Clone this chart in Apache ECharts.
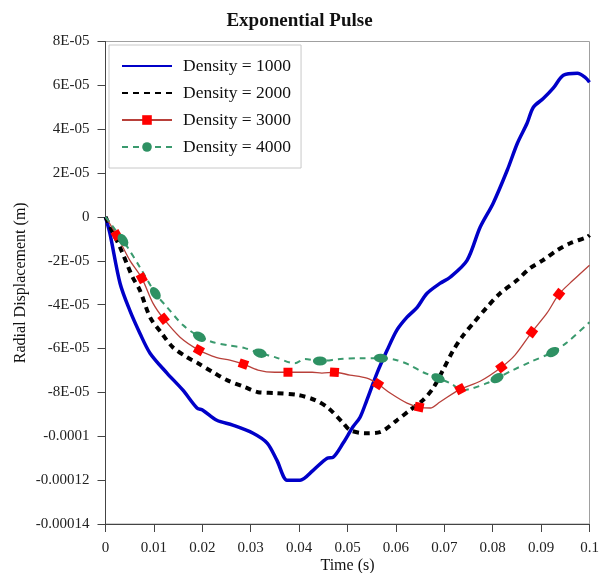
<!DOCTYPE html>
<html>
<head>
<meta charset="utf-8">
<script src="https://cdn.jsdelivr.net/npm/echarts@6/dist/echarts.min.js"></script>
<style>
  html, body { margin: 0; padding: 0; background: #ffffff; }
  #chart { width: 599px; height: 573px; }
</style>
</head>
<body>
<div id="chart"></div>
<script>
// Radial displacement response to an exponential pulse, four material densities.
const chartTitle = 'Exponential Pulse';
const xAxisName = 'Time (s)';
const yAxisName = 'Radial Displacement (m)';
const seriesNames = ['Density = 1000', 'Density = 2000', 'Density = 3000', 'Density = 4000'];

// time (s) and radial displacement (m)
const time1000 = [0, 0.0009, 0.0030, 0.0050, 0.0071, 0.0092, 0.0127, 0.0160, 0.0189, 0.0201, 0.0230, 0.0263, 0.0305, 0.0334, 0.0354, 0.0375, 0.0387, 0.0402, 0.0429, 0.0458, 0.0470, 0.0491, 0.0511, 0.0526, 0.0540, 0.0561, 0.0582, 0.0602, 0.0623, 0.0644, 0.0664, 0.0691, 0.0712, 0.0747, 0.0774, 0.0801, 0.0830, 0.0851, 0.0871, 0.0884, 0.0905, 0.0925, 0.0946, 0.0975, 0.0991, 0.1];
const disp1000 = [0, -0.74e-5, -3.02e-5, -4.25e-5, -5.30e-5, -6.21e-5, -7.12e-5, -7.90e-5, -8.71e-5, -8.81e-5, -9.27e-5, -9.49e-5, -9.86e-5, -10.31e-5, -11.09e-5, -12.0e-5, -12.0e-5, -12.0e-5, -11.55e-5, -11.0e-5, -10.96e-5, -10.31e-5, -9.58e-5, -9.13e-5, -8.35e-5, -7.12e-5, -6.07e-5, -5.16e-5, -4.57e-5, -4.12e-5, -3.49e-5, -3.03e-5, -2.75e-5, -1.98e-5, -0.47e-5, 0.63e-5, 2.13e-5, 3.36e-5, 4.27e-5, 5.0e-5, 5.41e-5, 5.87e-5, 6.46e-5, 6.55e-5, 6.36e-5, 6.14e-5];

const time2000 = [0, 0.0015, 0.0030, 0.0056, 0.0071, 0.0092, 0.0116, 0.0139, 0.0168, 0.0191, 0.0222, 0.0251, 0.0288, 0.0315, 0.0350, 0.0398, 0.0433, 0.0460, 0.0491, 0.0505, 0.0536, 0.0567, 0.0602, 0.0629, 0.0656, 0.0677, 0.0698, 0.0718, 0.0739, 0.0760, 0.0788, 0.0815, 0.0850, 0.0877, 0.0904, 0.0933, 0.0960, 0.0995, 0.1];
const disp2000 = [0, -0.70e-5, -1.38e-5, -2.75e-5, -3.34e-5, -4.57e-5, -5.30e-5, -5.94e-5, -6.39e-5, -6.67e-5, -7.08e-5, -7.44e-5, -7.76e-5, -7.99e-5, -8.03e-5, -8.12e-5, -8.35e-5, -8.71e-5, -9.40e-5, -9.72e-5, -9.86e-5, -9.81e-5, -9.27e-5, -8.81e-5, -8.35e-5, -7.80e-5, -6.95e-5, -6.10e-5, -5.40e-5, -4.84e-5, -4.12e-5, -3.49e-5, -2.89e-5, -2.34e-5, -1.97e-5, -1.52e-5, -1.20e-5, -0.92e-5, -0.83e-5];

const time3000 = [0, 0.0023, 0.0050, 0.0075, 0.0098, 0.0120, 0.0154, 0.0193, 0.0230, 0.0257, 0.0285, 0.0315, 0.0350, 0.0377, 0.0406, 0.0427, 0.0447, 0.0473, 0.0505, 0.0540, 0.0563, 0.0588, 0.0623, 0.0648, 0.0671, 0.0691, 0.0733, 0.0774, 0.0818, 0.0846, 0.0881, 0.0912, 0.0937, 0.0966, 0.1];
const disp3000 = [0, -0.83e-5, -1.97e-5, -2.79e-5, -3.93e-5, -4.64e-5, -5.48e-5, -6.07e-5, -6.41e-5, -6.53e-5, -6.71e-5, -6.98e-5, -7.08e-5, -7.08e-5, -7.08e-5, -7.08e-5, -7.12e-5, -7.08e-5, -7.21e-5, -7.35e-5, -7.62e-5, -8.03e-5, -8.49e-5, -8.67e-5, -8.71e-5, -8.44e-5, -7.85e-5, -7.49e-5, -6.85e-5, -6.30e-5, -5.25e-5, -4.39e-5, -3.52e-5, -2.89e-5, -2.2e-5];
const markTimes3000 = [0.0023, 0.0075, 0.0120, 0.0193, 0.0285, 0.0377, 0.0473, 0.0563, 0.0648, 0.0733, 0.0818, 0.0881, 0.0937];

const time4000 = [0, 0.0036, 0.0071, 0.0103, 0.0127, 0.0160, 0.0194, 0.0222, 0.0253, 0.0288, 0.0319, 0.0350, 0.0391, 0.0412, 0.0443, 0.0485, 0.0526, 0.0569, 0.0602, 0.0629, 0.0656, 0.0687, 0.0712, 0.0739, 0.0760, 0.0788, 0.0809, 0.0842, 0.0877, 0.0924, 0.0954, 0.1];
const disp4000 = [0, -1.06e-5, -2.29e-5, -3.48e-5, -4.11e-5, -4.93e-5, -5.46e-5, -5.71e-5, -5.85e-5, -5.98e-5, -6.21e-5, -6.39e-5, -6.67e-5, -6.48e-5, -6.57e-5, -6.48e-5, -6.44e-5, -6.44e-5, -6.53e-5, -6.76e-5, -7.08e-5, -7.35e-5, -7.58e-5, -7.90e-5, -7.80e-5, -7.58e-5, -7.35e-5, -6.98e-5, -6.62e-5, -6.16e-5, -5.71e-5, -4.80e-5];
const markTimes4000 = [0.0036, 0.0103, 0.0194, 0.0319, 0.0443, 0.0569, 0.0687, 0.0809, 0.0924];

// axis ticks, listed from the axis minimum upwards
const xTickLabels = ['0', '0.01', '0.02', '0.03', '0.04', '0.05', '0.06', '0.07', '0.08', '0.09', '0.1'];
const yTickLabels = ['-0.00014', '-0.00012', '-0.0001', '-8E-05', '-6E-05', '-4E-05', '-2E-05', '0', '2E-05', '4E-05', '6E-05', '8E-05'];
const X_MIN = 0, X_MAX = 0.1, X_STEP = 0.01;
const Y_MIN = -0.00014, Y_MAX = 0.00008, Y_STEP = 0.00002;

const SERIF = '"Liberation Serif", "Times New Roman", serif';
const ELLIPSE = 'path://M-7,0A7,4.5,0,1,1,7,0A7,4.5,0,1,1,-7,0Z';

function points(ts, vs) {
  return ts.map((t, i) => [t, vs[i]]);
}

// Curve points; only the listed marker times carry a symbol, turned along the curve.
function markedData(ts, vs, marks, angles) {
  return ts.map((t, i) => {
    const item = { value: [t, vs[i]] };
    if (marks.indexOf(t) < 0) {
      item.symbol = 'none';
    } else if (angles) {
      item.symbolRotate = angles[i];
    }
    return item;
  });
}

const chart = echarts.init(document.getElementById('chart'), null, { renderer: 'canvas' });

// plain lines have no marker in their legend sample
const hiddenSymbol = { color: 'rgba(0,0,0,0)', opacity: 0, borderWidth: 0 };

function buildOption(angles3000, angles4000) {
  return {
    backgroundColor: '#ffffff',
    animation: false,
    title: {
      text: chartTitle,
      left: 'center',
      top: 7,
      textStyle: { fontFamily: SERIF, fontWeight: 'bold', fontSize: 19, color: '#111' }
    },
    legend: {
      orient: 'vertical',
      left: 109,
      top: 45,
      data: [
        { name: seriesNames[0], itemStyle: hiddenSymbol },
        { name: seriesNames[1], itemStyle: hiddenSymbol },
        { name: seriesNames[2] },
        { name: seriesNames[3] }
      ],
      itemWidth: 50,
      itemHeight: 12,
      itemGap: 9,
      padding: [12, 10, 12, 12],
      borderColor: '#c8c8c8',
      borderWidth: 1,
      backgroundColor: '#ffffff',
      textStyle: { fontFamily: SERIF, fontSize: 17.5, color: '#111', padding: [0, 0, 0, 6] }
    },
    grid: {
      left: 105.5, right: 9.5, top: 41.5, bottom: 49,
      outerBoundsMode: 'none',
      containLabel: false,
      show: true, borderColor: '#a0a0a0', borderWidth: 1, backgroundColor: 'transparent'
    },
    xAxis: {
      type: 'value',
      min: X_MIN, max: X_MAX, interval: X_STEP,
      name: xAxisName, nameLocation: 'middle', nameGap: 34,
      nameMoveOverlap: false,
      nameTextStyle: { fontFamily: SERIF, fontSize: 16, color: '#111' },
      axisLine: { onZero: false, lineStyle: { color: '#444', width: 1 } },
      axisTick: { length: 8, lineStyle: { color: '#444' } },
      axisLabel: {
        margin: 17, fontFamily: SERIF, fontSize: 15, color: '#222',
        formatter: v => xTickLabels[Math.round((v - X_MIN) / X_STEP)]
      },
      splitLine: { show: false }
    },
    yAxis: {
      type: 'value',
      min: Y_MIN, max: Y_MAX, interval: Y_STEP,
      name: yAxisName, nameLocation: 'middle', nameGap: 77,
      nameMoveOverlap: false,
      nameTextStyle: { fontFamily: SERIF, fontSize: 16, color: '#111' },
      axisLine: { onZero: false, lineStyle: { color: '#444', width: 1 } },
      axisTick: { length: 8, lineStyle: { color: '#444' } },
      axisLabel: {
        margin: 16, fontFamily: SERIF, fontSize: 15, color: '#222',
        formatter: v => yTickLabels[Math.round((v - Y_MIN) / Y_STEP)]
      },
      splitLine: { show: false }
    },
    series: [
      {
        name: seriesNames[0], type: 'line', smooth: 0.3, symbol: 'none',
        data: points(time1000, disp1000),
        lineStyle: { color: '#0000c8', width: 3.5 },
        itemStyle: { color: '#0000c8' }
      },
      {
        name: seriesNames[1], type: 'line', smooth: 0.3, symbol: 'none',
        data: points(time2000, disp2000),
        lineStyle: { color: '#000000', width: 4, type: [6, 5] },
        itemStyle: { color: '#000000' }
      },
      {
        name: seriesNames[2], type: 'line', smooth: 0.3,
        symbol: 'rect', symbolSize: 9,
        data: markedData(time3000, disp3000, markTimes3000, angles3000),
        lineStyle: { color: '#b8403a', width: 1.3 },
        itemStyle: { color: '#ff0000' }
      },
      {
        name: seriesNames[3], type: 'line', smooth: 0.3,
        symbol: ELLIPSE, symbolSize: [14, 9],
        data: markedData(time4000, disp4000, markTimes4000, angles4000),
        lineStyle: { color: '#3a9a6e', width: 2, type: [6, 5] },
        itemStyle: { color: '#2e9163' }
      }
    ]
  };
}

chart.setOption(buildOption(null, null));

// Turn each marker along the local direction of its curve, in screen space.
function tangentAngles(ts, vs) {
  return ts.map((t, i) => {
    const a = chart.convertToPixel({ gridIndex: 0 }, [ts[Math.max(0, i - 1)], vs[Math.max(0, i - 1)]]);
    const b = chart.convertToPixel({ gridIndex: 0 }, [ts[Math.min(ts.length - 1, i + 1)], vs[Math.min(ts.length - 1, i + 1)]]);
    return Math.atan2(-(b[1] - a[1]), b[0] - a[0]) * 180 / Math.PI;
  });
}

chart.setOption(buildOption(tangentAngles(time3000, disp3000), tangentAngles(time4000, disp4000)));
</script>
</body>
</html>
